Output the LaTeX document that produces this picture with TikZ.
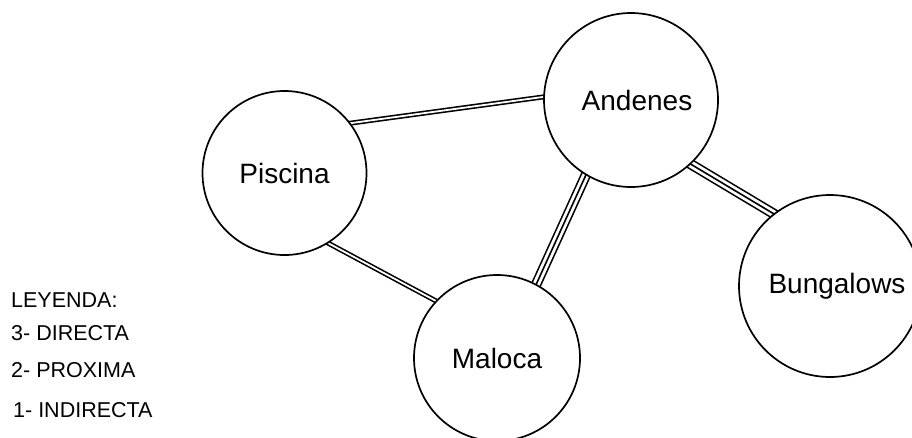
\documentclass[tikz,border=0pt]{standalone}
\usepackage{fontspec}
\setmainfont{Liberation Sans}
\pgfdeclarelayer{background}
\pgfsetlayers{background,main}
\begin{document}
\begin{tikzpicture}[x=1pt,y=-1pt,
  place/.style={circle, draw=black, line width=1.7pt, fill=white, inner sep=0pt},
  lbl/.style={font=\fontsize{28}{31}\selectfont, inner sep=0pt},
  legend/.style={font=\fontsize{21.5}{25}\selectfont, anchor=base west, inner sep=0pt},
  twoline/.style={draw=black, double=white, line width=1.6pt, double distance=1.8pt,
    shorten <=-4pt, shorten >=-4pt},
  threeline/.style={draw=black, line width=1.6pt,
    preaction={draw=black, line width=10.4pt},
    preaction={draw=white, line width=7.2pt},
    shorten <=-4pt, shorten >=-4pt}]
  \useasboundingbox (0,0) rectangle (912,437);

  % places
  \node[place, minimum size=174pt, label={[lbl, xshift=6pt, yshift=-0.5pt]center:Andenes}] (and) at (631,100) {};
  \node[place, minimum size=164pt, label={[lbl]center:Piscina}] (pis) at (284.5,173) {};
  \node[place, minimum size=166pt, label={[lbl]center:Maloca}] (mal) at (497,358) {};
  \node[place, minimum size=182pt, label={[lbl, xshift=7pt]center:Bungalows}] (bun) at (830,286) {};

  % relations
  \begin{pgfonlayer}{background}
    \draw[twoline] (pis.37.9) -- (and.178.7);
    \draw[twoline] (pis.-58.1) -- (mal.137);
    \draw[threeline] (and.-121) -- (mal.62);
    \draw[threeline] (and.-47.6) -- (bun.128.6);
  \end{pgfonlayer}

  % legend
  \node[legend] (leg0) at (11,307) {LEYENDA:};
  \node[legend] (leg3) at (11,340) {3- DIRECTA};
  \node[legend] (leg2) at (11,377) {2- PROXIMA};
  \node[legend] (leg1) at (13,417) {1- INDIRECTA};
\end{tikzpicture}
\end{document}
